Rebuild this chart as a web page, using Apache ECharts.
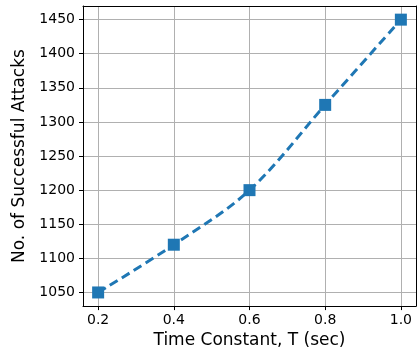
<!DOCTYPE html>
<html>
<head>
<meta charset="utf-8">
<script src="https://cdn.jsdelivr.net/npm/echarts@6/dist/echarts.min.js"></script>
<style>html,body{margin:0;padding:0;background:#fff}#c{width:417px;height:354px}</style>
</head>
<body>
<div id="c"></div>
<script>
var timeConstants = [0.2, 0.4, 0.6, 0.8, 1.0];
var attacks = [1050, 1120, 1200, 1325, 1450];
var xTicks = [0.2, 0.4, 0.6, 0.8, 1.0];
var yTicks = [1050, 1100, 1150, 1200, 1250, 1300, 1350, 1400, 1450];

var font = 'DejaVu Sans';
var chart = echarts.init(document.getElementById('c'), null, {renderer: 'canvas'});
var frameAxis = {
  axisLine: {show: true, onZero: false, lineStyle: {color: '#000', width: 1}},
  axisTick: {show: false}, axisLabel: {show: false}, splitLine: {show: false}
};
chart.setOption({
  animation: false,
  backgroundColor: '#fff',
  grid: {left: 83, right: 1, top: 6, bottom: 44, containLabel: false},
  xAxis: [{
    type: 'value', min: 0.16, max: 1.04,
    name: 'Time Constant, T (sec)', nameLocation: 'middle', nameGap: 23,
    nameTextStyle: {fontFamily: font, fontSize: 17, color: '#000'},
    axisLine: {onZero: false, lineStyle: {color: '#000', width: 1}},
    axisTick: {show: true, length: 4, inside: false, customValues: xTicks, lineStyle: {color: '#000'}},
    axisLabel: {customValues: xTicks, margin: 7, fontFamily: font, fontSize: 14, color: '#000',
      formatter: function (v) { return v.toFixed(1); }},
    splitLine: {show: true, lineStyle: {color: '#b0b0b0', width: 1}}
  }, Object.assign({type: 'value', min: 0.16, max: 1.04, position: 'top'}, frameAxis)],
  yAxis: [{
    type: 'value', min: 1030, max: 1470,
    name: 'No. of Successful Attacks', nameLocation: 'middle', nameGap: 40,
    nameTextStyle: {fontFamily: font, fontSize: 17, color: '#000'},
    axisLine: {show: true, onZero: false, lineStyle: {color: '#000', width: 1}},
    axisTick: {show: true, length: 4, customValues: yTicks, lineStyle: {color: '#000'}},
    axisLabel: {customValues: yTicks, margin: 8, fontFamily: font, fontSize: 14, color: '#000',
      formatter: function (v) { return String(v); }},
    splitLine: {show: true, lineStyle: {color: '#b0b0b0', width: 1}}
  }, Object.assign({type: 'value', min: 1030, max: 1470, position: 'right'}, frameAxis)],
  series: [{
    type: 'line',
    data: timeConstants.map(function (t, i) { return [t, attacks[i]]; }),
    smooth: 0.35,
    symbol: 'rect', symbolSize: 12,
    itemStyle: {color: '#1f77b4'},
    lineStyle: {color: '#1f77b4', width: 3, type: [9, 5]}
  }]
});
</script>
</body>
</html>
